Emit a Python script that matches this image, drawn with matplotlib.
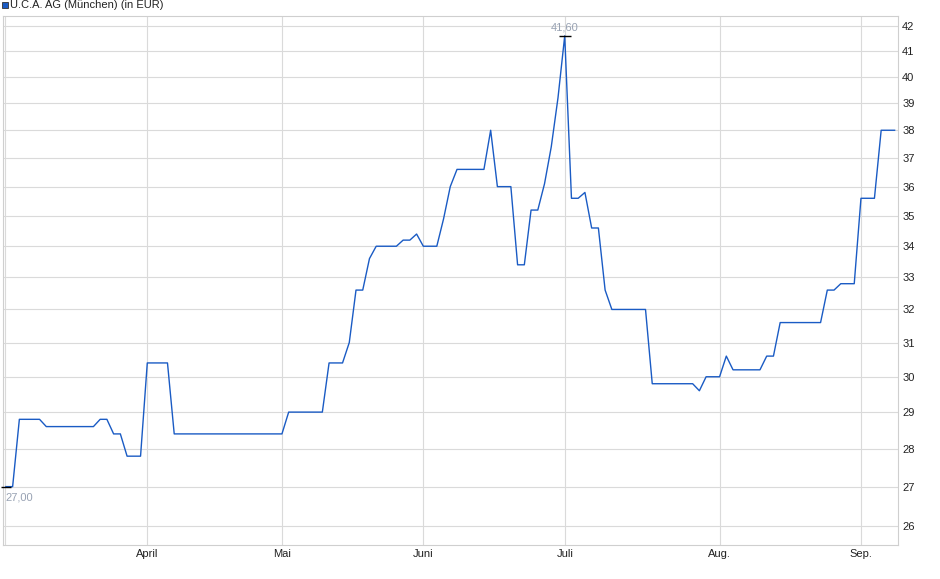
import numpy as np
import matplotlib
matplotlib.use('Agg')
import matplotlib.pyplot as plt
from matplotlib.patches import Rectangle
from matplotlib.ticker import NullFormatter, FixedLocator

plt.rcParams['font.family'] = ['Liberation Sans', 'DejaVu Sans']

# trading day number / closing price (EUR), only where the line changes direction
days = [0, 1, 2, 5, 6, 13, 14, 15, 16, 17, 18, 20, 21, 24, 25, 41, 42, 47, 48, 50,
        51, 52, 53, 54, 55, 58, 59, 60, 61, 62, 64, 65, 66, 67, 71, 72, 73, 75, 76, 77,
        78, 79, 80, 81, 82, 83, 84, 85, 86, 87, 88, 89, 90, 95, 96, 102, 103, 104, 106, 107,
        108, 112, 113, 114, 115, 121, 122, 123, 124, 126, 127, 129, 130, 132]
prices = [27.0, 27.0, 28.8, 28.8, 28.6, 28.6, 28.8, 28.8, 28.4, 28.4, 27.8, 27.8, 30.4, 30.4, 28.4, 28.4, 29.0, 29.0, 30.4, 30.4,
          31.0, 32.6, 32.6, 33.6, 34.0, 34.0, 34.2, 34.2, 34.4, 34.0, 34.0, 34.9, 36.0, 36.6, 36.6, 38.0, 36.0, 36.0, 33.4, 33.4,
          35.2, 35.2, 36.1, 37.4, 39.2, 41.6, 35.6, 35.6, 35.8, 34.6, 34.6, 32.6, 32.0, 32.0, 29.8, 29.8, 29.6, 30.0, 30.0, 30.6,
          30.2, 30.2, 30.6, 30.6, 31.6, 31.6, 32.6, 32.6, 32.8, 32.8, 35.6, 35.6, 38.0, 38.0]

month_days = [21, 41, 62, 83, 106, 127]
month_labels = ['April', 'Mai', 'Juni', 'Juli', 'Aug.', 'Sep.']
y_ticks = list(range(26, 43))

line_col = '#1a5bc4'
grid_col = '#dadada'
W, H = 940, 579

fig = plt.figure(figsize=(W / 100, H / 100), dpi=100)
ax = fig.add_axes([3 / W, 34 / H, 895 / W, 529 / H])

ax.plot(days, prices, color=line_col, lw=1.0, zorder=3)

# high / low marks
i_hi = int(np.argmax(prices))
i_lo = int(np.argmin(prices))
ax.plot([days[i_hi]], [prices[i_hi]], marker='_', ms=8, mew=1, color='black', clip_on=False, zorder=4)
ax.plot([days[i_lo]], [prices[i_lo]], marker='_', ms=7.5, mew=1, color='black', clip_on=False, zorder=4)
ax.annotate(f'{prices[i_hi]:.2f}'.replace('.', ','), xy=(days[i_hi], prices[i_hi]),
            xytext=(0, 6), textcoords='offset points', ha='center', va='center',
            fontsize=8, color='#98a2b3')
ax.annotate(f'{prices[i_lo]:.2f}'.replace('.', ','), xy=(days[i_lo], prices[i_lo]),
            xytext=(0, -7.8), textcoords='offset points', ha='left', va='center',
            fontsize=8, color='#98a2b3')

ax.set_yscale('log')
ax.set_ylim(25.53, 42.40)
ax.set_yticks(y_ticks)
ax.set_yticklabels([str(v) for v in y_ticks])
ax.yaxis.set_minor_locator(FixedLocator([]))
ax.yaxis.set_minor_formatter(NullFormatter())
ax.yaxis.tick_right()

ax.set_xlim(-0.43, 132.5)
ax.set_xticks(month_days)
ax.set_xticklabels(month_labels)
ax.xaxis.set_minor_locator(FixedLocator([-0.09]))

ax.tick_params(axis='both', which='both', length=0, labelsize=8, labelcolor='#222222')
ax.tick_params(axis='y', pad=3)
ax.tick_params(axis='x', pad=3)

ax.grid(True, which='major', color=grid_col, lw=0.8, zorder=0)
ax.grid(True, which='minor', axis='x', color=grid_col, lw=0.8, zorder=0)
for s in ax.spines.values():
    s.set_color('#cfcfcf')
    s.set_linewidth(0.8)

# legend-like title
fig.patches.append(Rectangle((1.5 / W, 1 - 8 / H), 6 / W, 6 / H, transform=fig.transFigure,
                             facecolor=line_col, edgecolor='#333333', lw=0.6))
fig.text(10 / W, 1 - 5.5 / H, 'U.C.A. AG (München) (in EUR)', fontsize=8,
         color='#222222', va='center', ha='left')

fig.savefig('out.png', dpi=100)
